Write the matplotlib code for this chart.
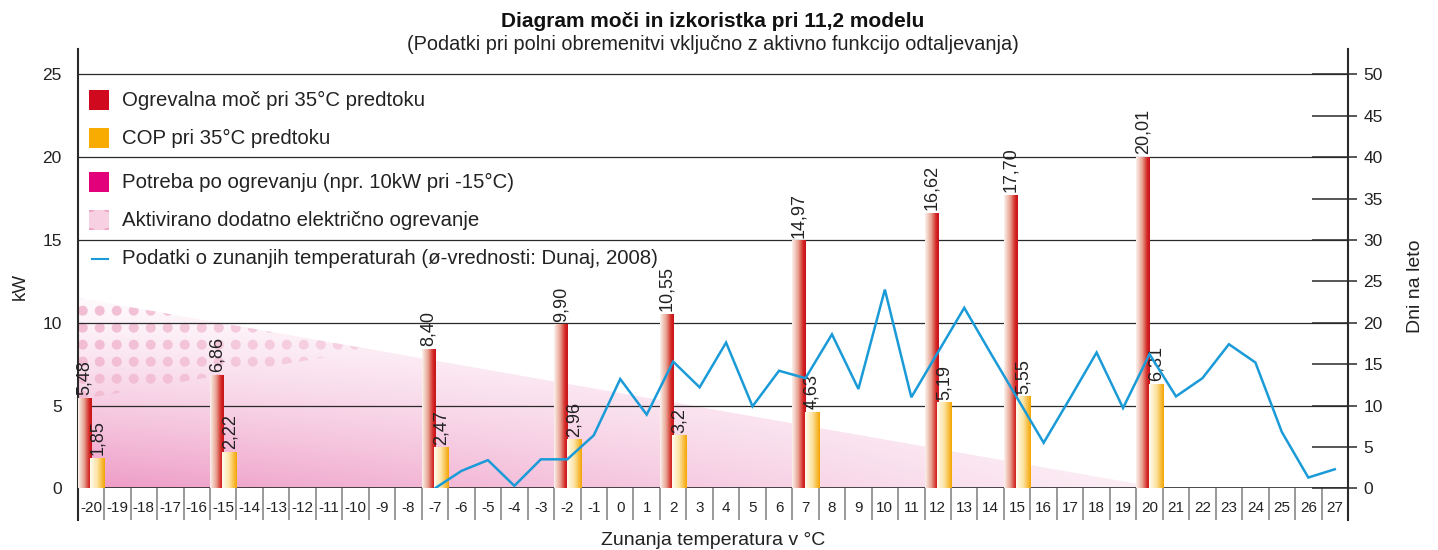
import numpy as np
import matplotlib
matplotlib.use("Agg")
import matplotlib.pyplot as plt
from matplotlib.colors import LinearSegmentedColormap, to_rgb
from matplotlib.patches import Polygon, Rectangle, Circle
from matplotlib.lines import Line2D
from matplotlib.ticker import FixedLocator

plt.rcParams['font.family'] = ['Liberation Sans', 'DejaVu Sans']

# ---------------- data ----------------
temps = list(range(-20, 28))
bar_temps = [-20, -15, -7, -2, 2, 7, 12, 15, 20]
power_kw = [5.48, 6.86, 8.40, 9.90, 10.55, 14.97, 16.62, 17.70, 20.01]
cop = [1.85, 2.22, 2.47, 2.96, 3.2, 4.63, 5.19, 5.55, 6.31]
days_temps = list(range(-7, 28))
days_per_year = [0, 2.1, 3.4, 0.3, 3.5, 3.5, 6.4, 13.2, 8.9, 15.3, 12.2, 17.6,
                 9.9, 14.2, 13.3, 18.6, 12.0, 24.0, 11.0, 16.4, 21.8, 16.3,
                 10.9, 5.5, 10.9, 16.4, 9.7, 16.2, 11.1, 13.3, 17.4, 15.2,
                 6.8, 1.3, 2.3]
demand_temps = [-20.5, 20.5]
demand_kw = [11.5, 0.0]
kw_ticks = [0, 5, 10, 15, 20, 25]
day_ticks = [0, 5, 10, 15, 20, 25, 30, 35, 40, 45, 50]

title = "Diagram moči in izkoristka pri 11,2 modelu"
subtitle = "(Podatki pri polni obremenitvi vključno z aktivno funkcijo odtaljevanja)"
legend_labels = ["Ogrevalna moč pri 35°C predtoku",
                 "COP pri 35°C predtoku",
                 "Potreba po ogrevanju (npr. 10kW pri -15°C)",
                 "Aktivirano dodatno električno ogrevanje",
                 "Podatki o zunanjih temperaturah (ø-vrednosti: Dunaj, 2008)"]

# ---------------- layout ----------------
W, H = 1438, 550
fig = plt.figure(figsize=(W / 100, H / 100), dpi=100)
ax_l, ax_r, ax_b, ax_t = 77.7, 1348.0, 488.3, 49.0
ax = fig.add_axes([ax_l / W, 1 - ax_b / H, (ax_r - ax_l) / W, (ax_b - ax_t) / H])
ymax = 26.53
xmin, xmax = temps[0] - 0.5, temps[-1] + 0.5
ax.set_xlim(xmin, xmax)
ax.set_ylim(0, ymax)
ax.set_autoscale_on(False)
ax.patch.set_visible(False)

def fx(px):
    return px / W

def fy(py):
    return 1 - py / H

# ---------------- heat demand area (gradient) ----------------
poly_demand = Polygon([(demand_temps[0], 0), (demand_temps[0], demand_kw[0]),
                       (demand_temps[1], demand_kw[1])], closed=True,
                      facecolor='none', edgecolor='none', transform=ax.transData)
ax.add_patch(poly_demand)
gx = np.linspace(demand_temps[0], demand_temps[1], 400)
gy = np.linspace(0, demand_kw[0], 200)
GX, GY = np.meshgrid(gx, gy)
fyv = 0.06 + 0.94 * np.clip(1 - GY / demand_kw[0], 0, 1) ** 1.3
fxv = 1 - 0.85 * (GX - demand_temps[0]) / (demand_temps[1] - demand_temps[0])
f = (fyv * fxv)[..., None]
base = np.array([238, 155, 198]) / 255.0
img = (1 - f) * np.ones(3) + f * base
im = ax.imshow(img, extent=[gx[0], gx[-1], 0, demand_kw[0]], origin='lower',
               aspect='auto', interpolation='bilinear', zorder=0.5)
im.set_clip_path(poly_demand)

# ---------------- electric backup zone (dots) ----------------
slope_cap = (power_kw[1] - power_kw[0]) / (bar_temps[1] - bar_temps[0])
slope_dem = (demand_kw[1] - demand_kw[0]) / (demand_temps[1] - demand_temps[0])
cap0 = power_kw[0] + slope_cap * (demand_temps[0] - bar_temps[0])
t_int = demand_temps[0] + (demand_kw[0] - cap0) / (slope_cap - slope_dem)
k_int = demand_kw[0] + slope_dem * (t_int - demand_temps[0])
poly_el = Polygon([(demand_temps[0], cap0), (demand_temps[0], demand_kw[0]),
                   (t_int, k_int)], closed=True, facecolor='none',
                  edgecolor='none', transform=ax.transData)
ax.add_patch(poly_el)
dx, dy = 17 / 26.46, 17 / 16.56
DX, DY = np.meshgrid(np.arange(demand_temps[0] + 0.19, t_int + dx, dx),
                     np.arange(cap0 + 0.25, demand_kw[0] + dy, dy))
DX, DY = DX.ravel(), DY.ravel()
fade = np.clip(1 - 0.5 * (DX - demand_temps[0]) / (t_int - demand_temps[0]), 0.2, 1)
dot_rgb = np.array(to_rgb('#f2bcd3'))
cols = np.array([np.concatenate([dot_rgb, [a]]) for a in fade])
sc = ax.scatter(DX, DY, s=52, c=cols, edgecolors='none', zorder=0.6)
sc.set_clip_path(poly_el)

# ---------------- grid lines & axes lines ----------------
ax.hlines(kw_ticks[1:], xmin, xmax, color='#2a2a2a', lw=0.9, zorder=1)
ax.hlines([0], xmin, xmax, color='#2a2a2a', lw=1.2, zorder=1)
box_h = (520 - 488.3) / (ax_b - ax_t)
xt = ax.get_xaxis_transform()
ax.vlines(np.array(temps[:-1]) + 0.5, -box_h, 0, transform=xt, color='#7d7d7d',
          lw=1.1, clip_on=False)
for xa, col in [(0, '#2a2a2a'), (1, '#2a2a2a')]:
    ax.add_line(Line2D([xa, xa], [-box_h, 1], transform=ax.transAxes, color=col,
                       lw=1.5, clip_on=False))
for s in ax.spines.values():
    s.set_visible(False)

# ---------------- bars with gradients ----------------
red_cmap = LinearSegmentedColormap.from_list(
    'r', [(0, '#fbf1ec'), (0.45, '#e8a090'), (0.8, '#d42a25'), (1, '#c8101a')])
yel_cmap = LinearSegmentedColormap.from_list(
    'y', [(0, '#fffdf2'), (0.5, '#fde2a0'), (1, '#f5a500')])
grad = np.linspace(0, 1, 64).reshape(1, -1)

red_bars = ax.bar(np.array(bar_temps) - 0.5, power_kw, width=0.5, align='edge',
                  facecolor='none', edgecolor='none', zorder=2)
cop_bars = ax.bar(np.array(bar_temps) - 0.03, cop, width=0.55, align='edge',
                  facecolor='none', edgecolor='none', zorder=2.1)
for bars, cmap, z in [(red_bars, red_cmap, 2), (cop_bars, yel_cmap, 2.1)]:
    for p in bars:
        x0, y0 = p.get_x(), p.get_y()
        ext = [x0, x0 + p.get_width(), y0, y0 + p.get_height()]
        g = ax.imshow(grad, extent=ext, aspect='auto', cmap=cmap,
                      interpolation='bilinear', zorder=z)
        g.set_clip_path(p)

for p, v in zip(red_bars, power_kw):
    ax.annotate(f"{v:.2f}".replace('.', ','), (p.get_x() + p.get_width() / 2, p.get_height()),
                xytext=(0, 2), textcoords='offset points', rotation=90,
                ha='center', va='bottom', fontsize=13, color='#222', zorder=5)
for p, v in zip(cop_bars, cop):
    ax.annotate(f"{v:g}".replace('.', ','), (p.get_x() + p.get_width() / 2, p.get_height()),
                xytext=(0, 2), textcoords='offset points', rotation=90,
                ha='center', va='bottom', fontsize=13, color='#222', zorder=5)

# ---------------- ticks ----------------
ax.set_xticks(temps)
ax.set_xticklabels([str(t) for t in temps])
ax.tick_params(axis='x', length=0, pad=9, labelsize=11, labelcolor='#222')
ax.set_yticks(kw_ticks)
ax.tick_params(axis='y', length=0, pad=11.5, labelsize=12.5, labelcolor='#222')

ax2 = ax.twinx()
ax2.set_ylim(0, 2 * ymax)
for s in ax2.spines.values():
    s.set_visible(False)
ax2.set_yticks(day_ticks)
ax2.yaxis.set_minor_locator(FixedLocator(day_ticks))
ax2.yaxis.remove_overlapping_locs = False
ax2.tick_params(axis='y', which='major', direction='in', length=26, width=1.1,
                color='#2a2a2a', pad=11, labelsize=12.5, labelcolor='#222')
ax2.tick_params(axis='y', which='minor', direction='out', length=6.5, width=1.1,
                color='#2a2a2a')
ax2.plot(days_temps, days_per_year, color='#1a9bd8', lw=1.8, zorder=3,
         solid_joinstyle='miter')

# ---------------- texts ----------------
cx = (ax_l + ax_r) / 2
fig.text(fx(cx), fy(27.3), title, ha='center', va='baseline', fontsize=15,
         fontweight='bold', color='#111')
fig.text(fx(cx), fy(50), subtitle, ha='center', va='baseline', fontsize=14.3,
         color='#222')
fig.text(fx(cx), fy(545), "Zunanja temperatura v °C", ha='center', va='baseline',
         fontsize=14, color='#222')
fig.text(fx(20), fy(286), "kW", rotation=90, ha='center', va='center',
         fontsize=13.5, color='#222')
fig.text(fx(1415), fy(286), "Dni na leto", rotation=90, ha='center', va='center',
         fontsize=14, color='#222')

# ---------------- legend ----------------
sq = 20
leg_x = 89
leg_rows = [100, 138, 182, 220, 259]
leg_cols = ['#d0091f', '#f8ab00', '#e3007b']
for yc, col in zip(leg_rows[:3], leg_cols):
    fig.add_artist(Rectangle((fx(leg_x), fy(yc + sq / 2)), sq / W, sq / H,
                             transform=fig.transFigure, facecolor=col,
                             edgecolor='none'))
dot_sq = Rectangle((fx(leg_x), fy(leg_rows[3] + sq / 2)), sq / W, sq / H,
                   transform=fig.transFigure, facecolor='#f7d0e1', edgecolor='none')
fig.add_artist(dot_sq)
for ddx in (0, sq):
    for ddy in (0, sq):
        c = Circle((fx(leg_x + ddx), fy(leg_rows[3] - sq / 2 + ddy)), 5.5 / W,
                   transform=fig.transFigure, facecolor='#f0a6c6', edgecolor='none')
        fig.add_artist(c)
        c.set_clip_path(dot_sq)
fig.add_artist(Line2D([fx(92), fx(108)], [fy(leg_rows[4]), fy(leg_rows[4])],
                      transform=fig.transFigure, color='#1a9bd8', lw=1.5))
for yc, lab in zip(leg_rows, legend_labels):
    fig.text(fx(121.7), fy(yc), lab, ha='left', va='center', fontsize=14.7,
             color='#222')

fig.savefig('out.png', dpi=100)
